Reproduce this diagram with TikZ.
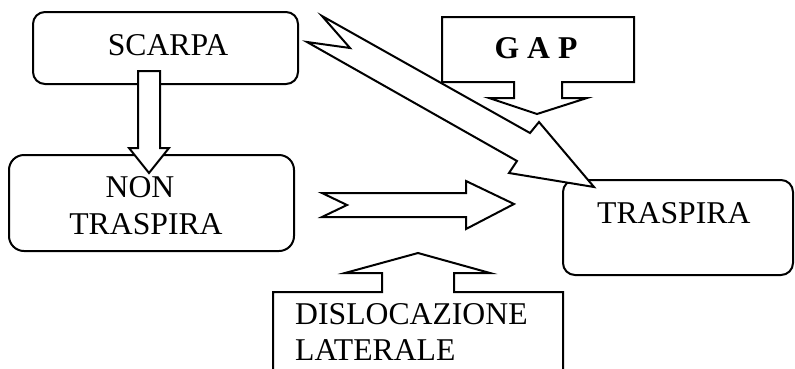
\documentclass[tikz,border=0pt]{standalone}
\usepackage{fontspec}
\setmainfont{Liberation Serif}
\begin{document}
\begin{tikzpicture}[x=1pt,y=-1pt,
  box/.style={draw,line width=2pt,rounded corners=#1,inner sep=0pt},
  lbl/.style={inner sep=0pt,font=\fontsize{31.7}{36}\selectfont},
  blockarrow/.style={draw,fill=white,line width=2pt,line join=miter}]
\useasboundingbox (0,0) rectangle (795,368);
\clip (0,0) rectangle (795,368);

% boxes
\node[box=12pt, minimum width=265pt, minimum height=72pt] (scarpa) at (165.5,48) {};
\node[box=15pt, minimum width=285pt, minimum height=96pt] (nontr) at (151.5,203) {};
\node[box=12pt, minimum width=230pt, minimum height=95pt] (traspira) at (678,227.5) {};

% callouts
\draw[blockarrow] (442,17) -- (634,17) -- (634,82) -- (562,82) -- (562,98) -- (587,98)
  -- (537,114) -- (489,98) -- (514,98) -- (514,82) -- (442,82) -- cycle;
\draw[blockarrow] (273,372) -- (273,292) -- (382,292) -- (382,273) -- (345,273)
  -- (418,253) -- (490,273) -- (454,273) -- (454,292) -- (563,292) -- (563,372);

% block arrows
\draw[blockarrow] (138,71) -- (160,71) -- (160,148) -- (169,148) -- (149,173)
  -- (129,148) -- (138,148) -- cycle;
\draw[blockarrow] (322,193) -- (466,193) -- (466,181) -- (514,204) -- (466,229)
  -- (466,217) -- (322,217) -- (347,205) -- cycle;
\draw[blockarrow] (322,16) -- (530,133) -- (539,122) -- (594,187) -- (509,173)
  -- (517,161) -- (307,42) -- (350,48) -- cycle;

% texts
\node[lbl, anchor=base] (tscarpa) at (168,55) {SCARPA};
\node[lbl, anchor=base] (tnon) at (140,197) {NON};
\node[lbl, anchor=base] (tnontr) at (146,234) {TRASPIRA};
\node[lbl, anchor=base west] (ttraspira) at (597,223) {TRASPIRA};
\node[lbl, anchor=base, font=\fontsize{31.7}{36}\selectfont\bfseries] (tgap) at (536,58) {G A P};
\node[lbl, anchor=base west] (tdisl) at (295,324) {DISLOCAZIONE};
\node[lbl, anchor=base west] (tlat) at (295,360) {LATERALE};
\end{tikzpicture}
\end{document}
